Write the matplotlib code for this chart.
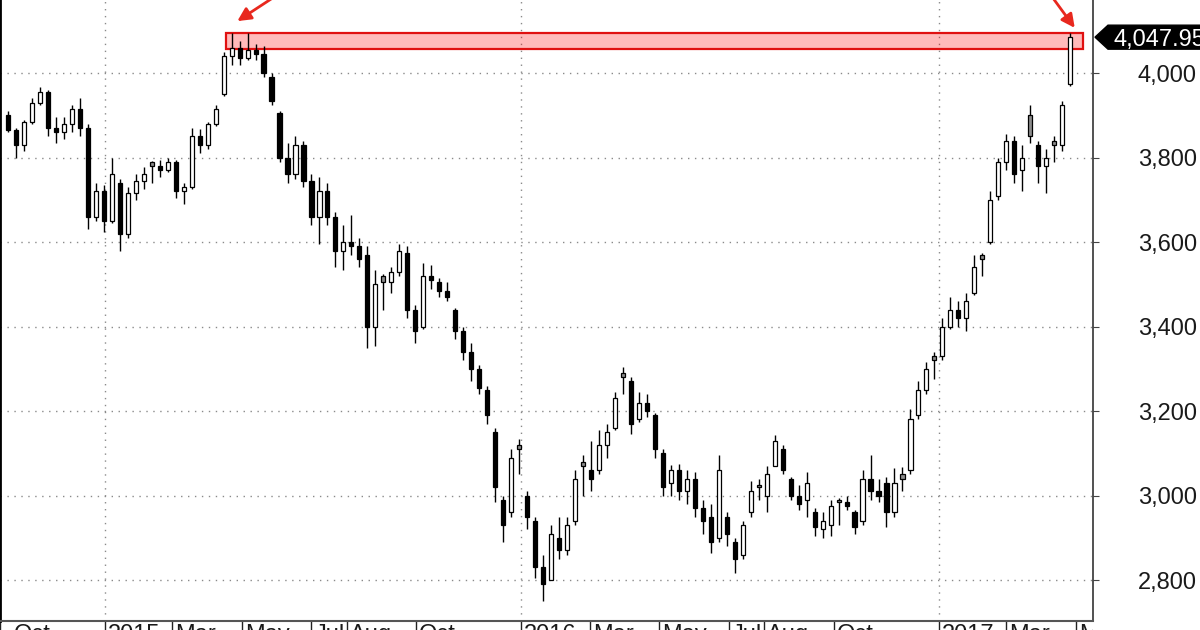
import matplotlib
matplotlib.use("Agg")
import matplotlib.pyplot as plt
import matplotlib.dates as mdates
import numpy as np
import pandas as pd
from matplotlib.transforms import blended_transform_factory, Bbox, TransformedBbox
from matplotlib.patches import Polygon, Rectangle

plt.rcParams['font.family'] = ['Liberation Sans', 'DejaVu Sans']

# ---------------- data (weekly candles) ----------------
first_week = "2014-10-08"
opens = [3900, 3865, 3830, 3885, 3930, 3955, 3870, 3860, 3880, 3915,
         3870, 3660, 3720, 3650, 3740, 3620, 3715, 3745, 3790, 3780,
         3770, 3790, 3720, 3730, 3850, 3830, 3880, 3950, 4040, 4060,
         4035, 4055, 4045, 3990, 3905, 3800, 3760, 3830, 3745, 3660,
         3720, 3660, 3580, 3600, 3590, 3570, 3400, 3520, 3505, 3530,
         3575, 3440, 3400, 3520, 3505, 3485, 3440, 3390, 3340, 3300,
         3250, 3150, 2990, 2960, 3120, 3000, 2940, 2830, 2800, 2900,
         2870, 2940, 3080, 3060, 3060, 3120, 3160, 3290, 3270, 3180,
         3220, 3190, 3100, 3030, 3060, 3010, 3040, 2970, 2950, 2900,
         2950, 2890, 2860, 2960, 3025, 3000, 3070, 3110, 3040, 3000,
         2990, 2960, 2920, 2930, 2990, 2985, 2960, 2940, 3040, 3010,
         3030, 2960, 3050, 3060, 3190, 3250, 3330, 3330, 3400, 3440,
         3420, 3480, 3570, 3600, 3710, 3790, 3840, 3770, 3900, 3830,
         3780, 3840, 3830, 3975]
highs = [3910, 3870, 3890, 3940, 3968, 3960, 3895, 3895, 3925, 3942,
         3880, 3740, 3735, 3800, 3750, 3730, 3760, 3778, 3792, 3795,
         3800, 3795, 3740, 3870, 3868, 3885, 3925, 4050, 4095, 4075,
         4095, 4070, 4065, 4000, 3910, 3835, 3850, 3840, 3760, 3755,
         3740, 3670, 3640, 3665, 3610, 3590, 3535, 3525, 3540, 3595,
         3590, 3450, 3550, 3545, 3515, 3505, 3445, 3400, 3360, 3310,
         3260, 3160, 3000, 3110, 3135, 3010, 2950, 2860, 2930, 2950,
         2950, 3060, 3096, 3130, 3155, 3170, 3245, 3305, 3280, 3245,
         3240, 3195, 3110, 3072, 3075, 3060, 3055, 2990, 2980, 3095,
         2960, 2900, 2940, 3035, 3040, 3070, 3143, 3120, 3045, 3025,
         3055, 2970, 2960, 2990, 2995, 3000, 2965, 3060, 3095, 3040,
         3045, 3065, 3067, 3205, 3270, 3315, 3340, 3420, 3470, 3460,
         3480, 3570, 3575, 3720, 3800, 3855, 3850, 3830, 3925, 3840,
         3820, 3850, 3935, 4095]
lows = [3860, 3800, 3815, 3880, 3925, 3850, 3835, 3845, 3860, 3850,
        3630, 3650, 3625, 3645, 3580, 3610, 3700, 3725, 3740, 3755,
        3765, 3705, 3690, 3725, 3810, 3820, 3875, 3945, 4020, 4020,
        4030, 4030, 3990, 3925, 3790, 3740, 3750, 3730, 3640, 3595,
        3640, 3540, 3535, 3570, 3540, 3350, 3355, 3440, 3480, 3520,
        3420, 3360, 3395, 3490, 3470, 3460, 3370, 3320, 3270, 3240,
        3170, 2985, 2890, 2950, 3050, 2920, 2805, 2750, 2800, 2850,
        2860, 2930, 3000, 3010, 3050, 3090, 3155, 3240, 3145, 3175,
        3185, 3090, 3000, 3000, 2990, 2980, 2950, 2910, 2865, 2890,
        2880, 2817, 2850, 2950, 2990, 2960, 3070, 3050, 2990, 2965,
        2950, 2905, 2900, 2905, 2930, 2965, 2910, 2930, 2990, 2985,
        2925, 2950, 3010, 3050, 3180, 3240, 3275, 3320, 3395, 3400,
        3390, 3475, 3520, 3595, 3700, 3770, 3740, 3720, 3835, 3740,
        3715, 3790, 3815, 3970]
closes = [3865, 3830, 3885, 3930, 3955, 3870, 3860, 3880, 3915, 3870,
          3660, 3720, 3650, 3760, 3620, 3715, 3745, 3760, 3780, 3770,
          3790, 3720, 3730, 3850, 3830, 3880, 3915, 4040, 4060, 4035,
          4055, 4045, 4000, 3935, 3800, 3760, 3830, 3745, 3660, 3720,
          3660, 3580, 3600, 3590, 3560, 3400, 3500, 3505, 3530, 3580,
          3440, 3390, 3520, 3510, 3485, 3470, 3390, 3340, 3300, 3255,
          3190, 3020, 2930, 3090, 3110, 2950, 2830, 2790, 2910, 2870,
          2930, 3040, 3070, 3040, 3120, 3150, 3230, 3280, 3170, 3220,
          3200, 3110, 3020, 3060, 3010, 3040, 2970, 2940, 2890, 3060,
          2910, 2850, 2930, 3010, 3020, 3050, 3130, 3060, 3000, 2980,
          3030, 2925, 2940, 2975, 2985, 2975, 2925, 3040, 3010, 3000,
          2960, 3030, 3040, 3180, 3250, 3300, 3320, 3400, 3440, 3420,
          3460, 3540, 3560, 3700, 3790, 3840, 3760, 3800, 3850, 3780,
          3800, 3830, 3925, 4085]
last_label = "4,047.95"
y_ticks = [2800, 3000, 3200, 3400, 3600, 3800, 4000]
month_ticks = ["2014-10-01", "2015-01-01", "2015-03-01", "2015-05-01", "2015-07-01",
               "2015-08-01", "2015-10-01", "2016-01-01", "2016-03-01", "2016-05-01",
               "2016-07-01", "2016-08-01", "2016-10-01", "2017-01-01", "2017-03-01",
               "2017-05-01"]
month_labels = ["Oct", "2015", "Mar", "May", "Jul", "Aug", "Oct", "2016", "Mar",
                "May", "Jul", "Aug", "Oct", "2017", "Mar", "May"]
year_lines = ["2015-01-01", "2016-01-01", "2017-01-01"]
zone_start, zone_end = "2015-04-17", "2017-05-07"
zone_low, zone_high = 4057, 4095

# ---------------- figure ----------------
W, H = 1200, 630
fig = plt.figure(figsize=(W / 100, H / 100), dpi=100)
ax = fig.add_axes([0.0, 9 / H, 1093 / W, 621 / H])

O = np.array(opens, float); Hh = np.array(highs, float)
L = np.array(lows, float); C = np.array(closes, float)
dates = pd.date_range(first_week, periods=len(C), freq="7D")
x = mdates.date2num(dates)

jan15 = mdates.date2num(pd.Timestamp("2015-01-01"))
x0, x1 = jan15 - 86.25, jan15 + 866.0
ax.set_xlim(x0, x1)
ax.set_ylim(2703, 4173)

grid_kw = dict(color="#8a8a8a", lw=1.0, ls=(0, (1, 4)), zorder=1)
for v in y_ticks:
    ax.axhline(v, **grid_kw)
for d in year_lines:
    ax.axvline(mdates.date2num(pd.Timestamp(d)), **grid_kw)

# zone box
zs = mdates.date2num(pd.Timestamp(zone_start)); ze = mdates.date2num(pd.Timestamp(zone_end))
ax.add_patch(Rectangle((zs, zone_low), ze - zs, zone_high - zone_low,
                       facecolor=(1, 0, 0, 0.27), edgecolor="#e01010", lw=1.6,
                       zorder=2, clip_on=False))

# candles
prev = np.concatenate([[O[0]], C[:-1]])
faces = []
for o, c, p in zip(O, C, prev):
    if c >= o:
        faces.append("white")
    elif c > p:
        faces.append("#8c8c8c")
    else:
        faces.append("black")
ax.vlines(x, L, Hh, color="black", lw=1.0, zorder=3)
body = np.maximum(np.abs(C - O), 3)
ax.bar(x, body, bottom=np.minimum(O, C), width=3.6, color=faces,
       edgecolor="black", linewidth=0.9, zorder=4)

# arrows
red = "#e8281e"
pk = int(np.argmax(Hh[:60]))
ax.annotate("", xy=(x[pk] + 5, Hh[pk] + 28), xytext=(x[pk] + 44, Hh[pk] + 97),
            arrowprops=dict(arrowstyle="-|>", color=red, lw=2, mutation_scale=20,
                            shrinkA=0, shrinkB=0), annotation_clip=False)
ax.annotate("", xy=(x[-1] + 4, Hh[-1] + 12), xytext=(x[-1] - 19, Hh[-1] + 97),
            arrowprops=dict(arrowstyle="-|>", color=red, lw=2, mutation_scale=20,
                            shrinkA=0, shrinkB=0), annotation_clip=False)

# axes styling
for s in ["top"]:
    ax.spines[s].set_visible(False)
ax.spines["left"].set_linewidth(2.0)
ax.spines["left"].set_color("black")
ax.spines["right"].set_color("#333333")
ax.spines["right"].set_linewidth(1.2)
ax.spines["bottom"].set_color("#555555")
ax.spines["bottom"].set_linewidth(1.5)

ax.yaxis.tick_right()
ax.set_yticks(y_ticks)
ax.tick_params(axis="y", direction="out", length=4, color="#444444", labelright=False, labelleft=False)
mt = [mdates.date2num(pd.Timestamp(d)) for d in month_ticks]
ax.set_xticks(mt)
ax.tick_params(axis="x", direction="out", length=10, width=1, color="#222222", labelbottom=False)

ytr = blended_transform_factory(fig.transFigure, ax.transData)
for v in y_ticks:
    ax.text(1197 / W, v, f"{v:,}", transform=ytr, ha="right", va="center_baseline",
            fontsize=17, color="#1a1a1a", clip_on=False)

xtr = blended_transform_factory(ax.transData, ax.transAxes)
clipbox = TransformedBbox(Bbox([[0, 0], [1093 / W, 1]]), fig.transFigure)
for m, lab in zip(mt, month_labels):
    t = ax.text(max(m + 2.5, x0 + 6), -0.005, lab, transform=xtr, ha="left", va="top",
                fontsize=17, color="#1a1a1a")
    t.set_clip_on(True)
    t.set_clip_box(clipbox)

# last price tag
yc = C[-1]
hh = 12 * (4173 - 2703) / 621
tag = Polygon([(1095 / W, yc), (1108 / W, yc + hh), (1.02, yc + hh), (1.02, yc - hh),
               (1108 / W, yc - hh)], closed=True, transform=ytr, facecolor="black",
              edgecolor="black", clip_on=False, zorder=5)
ax.add_patch(tag)
ax.text(1114 / W, yc, last_label, transform=ytr, ha="left", va="center_baseline",
        fontsize=17, color="white", clip_on=False, zorder=6)

fig.savefig("out.png", dpi=100)
